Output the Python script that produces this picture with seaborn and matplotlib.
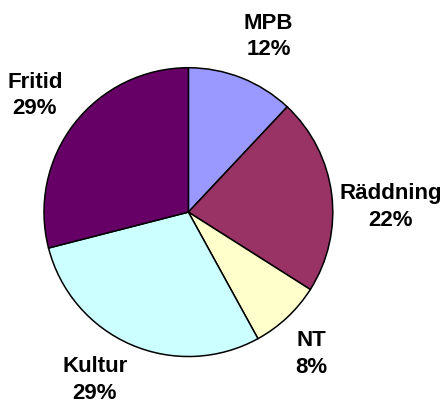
import matplotlib
matplotlib.use("Agg")
import matplotlib.pyplot as plt
import seaborn as sns

# data
categories = ["MPB", "Räddning", "NT", "Kultur", "Fritid"]
shares = [12, 22, 8, 29, 29]
colors = ["#9999FF", "#993366", "#FFFFCC", "#CCFFFF", "#660066"]

# small label nudges (in radius units) to mimic the original placement
nudges = [(0.07, -0.01), (0.09, -0.13), (-0.055, -0.02), (-0.125, 0.05), (-0.02, 0.0)]

sns.set_theme(style="white")
plt.rcParams["font.family"] = ["Liberation Sans", "DejaVu Sans"]

labels = [f"{c}\n{v}%" for c, v in zip(categories, shares)]

fig = plt.figure(figsize=(4.46, 4.01), dpi=100)
ax = fig.add_axes([0.0177, 0.0209, 0.8094, 0.9002])

wedges, texts = ax.pie(
    shares,
    labels=labels,
    colors=colors,
    startangle=90,
    counterclock=False,
    labeldistance=1.32,
    wedgeprops=dict(edgecolor="black", linewidth=1.1),
    textprops=dict(fontsize=16, fontweight="bold", color="black"),
)
for t, (dx, dy) in zip(texts, nudges):
    x, y = t.get_position()
    t.set_position((x + dx, y + dy))
    t.set_horizontalalignment("center")
    t.set_verticalalignment("center")
    t.set_linespacing(1.35)
    t.set_clip_on(False)

fig.savefig("out.png", dpi=100)
